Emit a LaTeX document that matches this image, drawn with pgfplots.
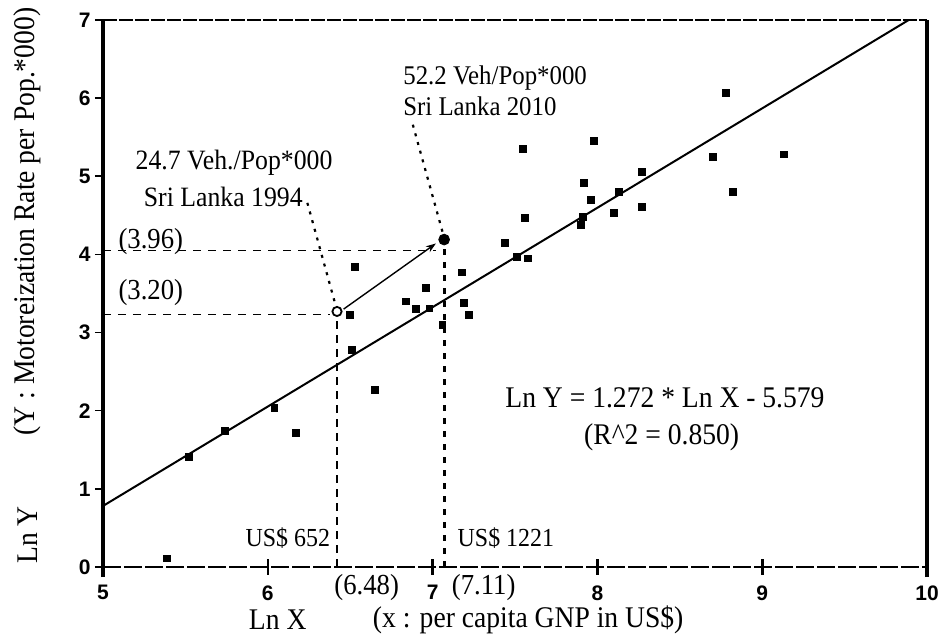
\documentclass[border=0pt]{standalone}
\usepackage{fontspec}
\setmainfont{Liberation Serif}[FakeStretch=0.92]
\setsansfont{Liberation Sans}
\usepackage{pgfplots}
\pgfplotsset{compat=1.18}
\usetikzlibrary{arrows.meta}
\newcommand{\fs}[1]{\fontsize{#1}{#1}\selectfont}
\begin{document}
\begin{tikzpicture}
\begin{axis}[name=ax, width=412pt, height=273.5pt, scale only axis,
  xmin=5, xmax=10, ymin=0, ymax=7, clip=false,
  axis line style={draw=none},
  xtick={5,6,7,8,9,10}, ytick={0,1,2,3,4,5,6,7},
  xtick pos=bottom, ytick pos=left,
  tick align=outside, major tick length=4pt,
  tick style={black, line width=0.8pt},
  extra x ticks={6,7,8,9}, extra x tick labels={},
  extra x tick style={tick align=center, major tick length=8pt, tick style={line width=1.3pt}},
  ticklabel style={font=\sffamily\bfseries\fs{10.5}, inner sep=1pt},
  xticklabel style={yshift=-4pt},
  yticklabel style={xshift=-1pt},
  /pgf/number format/assume math mode=true,
]
% frame
\draw[line width=2.4pt] (axis cs:5,-0.13) -- (axis cs:5,7);
\draw[line width=2pt] (axis cs:10,-0.13) -- (axis cs:10,7);
\draw[line width=0.6pt, dash pattern=on 7pt off 1pt] (axis cs:5,7) -- (axis cs:10,7);
\draw[line width=0.8pt, dash pattern=on 9pt off 1.5pt] (axis cs:5,0) -- (axis cs:10,0);

% regression line
\addplot[black, line width=1pt] coordinates {(5,0.781) (9.889,7)};

% countries
\addplot[only marks, mark=square*, mark size=1.7pt, black] table {
x y
5.39 0.11
5.52 1.41
5.74 1.74
6.04 2.04
6.17 1.72
6.50 3.23
6.53 3.84
6.51 2.78
6.65 2.27
6.84 3.40
6.90 3.30
6.96 3.57
6.98 3.31
7.06 3.10
7.18 3.77
7.19 3.38
7.22 3.23
7.44 4.15
7.51 3.97
7.58 3.95
7.56 4.47
7.55 5.35
7.92 4.92
7.96 4.70
7.91 4.48
7.90 4.38
7.98 5.45
8.10 4.53
8.13 4.80
8.27 5.06
8.27 4.61
8.70 5.25
8.78 6.07
8.82 4.80
9.13 5.28
};

% Sri Lanka 1994 and 2010
\addplot[only marks, mark=o, mark size=2.3pt, line width=0.9pt, black] coordinates {(6.42,3.27)};
\addplot[only marks, mark=*, mark size=2.7pt, black] coordinates {(7.07,4.19)};

% guide lines
\draw[line width=0.8pt, dash pattern=on 4pt off 3.5pt] (axis cs:5,4.05) -- (axis cs:7.02,4.05);
\draw[line width=0.8pt, dash pattern=on 4pt off 3.5pt] (axis cs:5,3.23) -- (axis cs:6.38,3.23);
\draw[line width=1.3pt, dash pattern=on 4pt off 3pt] (axis cs:6.42,0) -- (axis cs:6.42,3.2);
\draw[line width=1.4pt, dash pattern=on 3pt off 3.5pt] (axis cs:7.07,0) -- (axis cs:7.07,4.1);
\draw[line width=1.1pt, dash pattern=on 1.5pt off 3pt] (axis cs:6.24,4.66) -- (axis cs:6.41,3.36);
\draw[line width=1.1pt, dash pattern=on 1.5pt off 3pt] (axis cs:6.88,5.66) -- (axis cs:7.06,4.29);
\draw[line width=0.7pt, -{Stealth[length=5pt,width=3.5pt]}] (axis cs:6.46,3.30) -- (axis cs:7.02,4.14);

% texts
\node[font=\fs{14}, inner sep=1pt] at (axis cs:5.795,5.17) {24.7 Veh./Pop*000};
\node[font=\fs{14}, inner sep=1pt] at (axis cs:5.73,4.73) {Sri Lanka 1994};
\node[font=\fs{13.5}, anchor=west, inner sep=0pt] at (axis cs:6.82,6.26) {52.2 Veh/Pop*000};
\node[font=\fs{13.5}, anchor=west, inner sep=0pt] at (axis cs:6.82,5.89) {Sri Lanka 2010};
\node[font=\fs{14.5}, inner sep=1pt] at (axis cs:5.29,4.16) {(3.96)};
\node[font=\fs{14.5}, inner sep=1pt] at (axis cs:5.29,3.51) {(3.20)};
\node[font=\fs{13}, anchor=east, inner sep=0pt] at (axis cs:6.38,0.37) {US\$ 652};
\node[font=\fs{13}, anchor=west, inner sep=0pt] at (axis cs:7.15,0.37) {US\$ 1221};
\node[font=\fs{14.5}, inner sep=0pt] at (axis cs:6.60,-0.26) {(6.48)};
\node[font=\fs{14.5}, inner sep=0pt] at (axis cs:7.31,-0.26) {(7.11)};
\node[font=\fs{15}, inner sep=1pt] at (axis cs:8.41,2.16) {Ln Y = 1.272 * Ln X - 5.579};
\node[font=\fs{15}, inner sep=1pt] at (axis cs:8.39,1.66) {(R\textasciicircum 2 = 0.850)};
\node[font=\fs{15}, inner sep=0pt] at (axis cs:6.06,-0.67) {Ln X};
\node[font=\fs{15}, inner sep=0pt] at (axis cs:7.58,-0.67) {(x : per capita GNP in US\$)};
\node[font=\fs{15}, rotate=90, inner sep=0pt] at (axis cs:4.54,0.41) {Ln Y};
\node[font=\fs{15}, rotate=90, inner sep=0pt] at (axis cs:4.54,4.42) {(Y : Motoreization Rate per Pop.*000)};
\end{axis}
\pgfresetboundingbox
\path ([xshift=-51.5pt,yshift=-35pt]ax.south west) rectangle ([xshift=7pt,yshift=10pt]ax.north east);
\end{tikzpicture}
\end{document}
